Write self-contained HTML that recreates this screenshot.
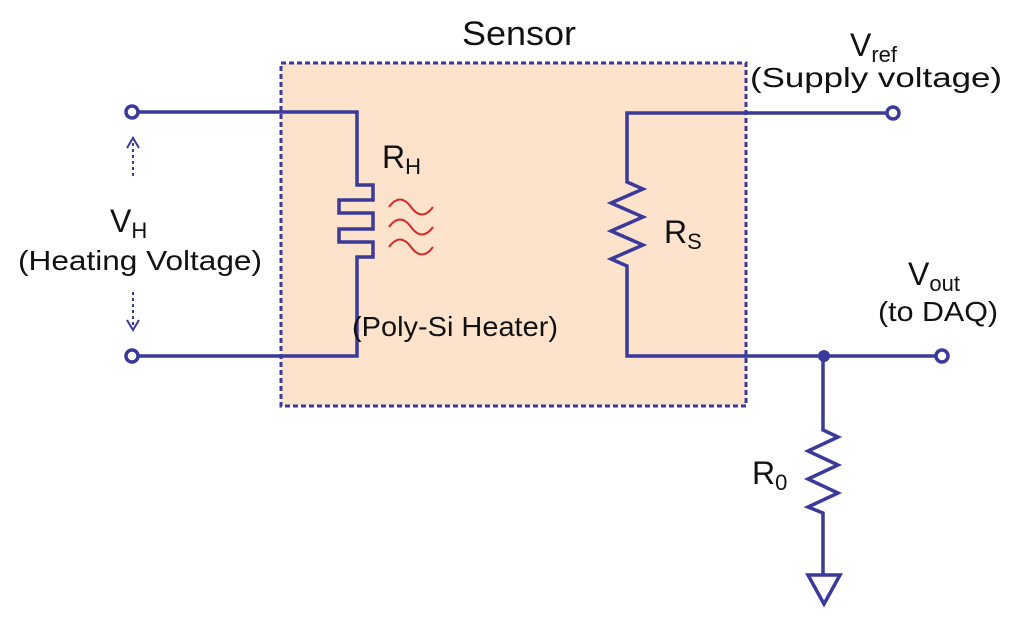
<!DOCTYPE html>
<html><head><meta charset="utf-8"><style>
html,body{margin:0;padding:0;background:#fff;}
svg{display:block;}
text{font-family:"Liberation Sans",sans-serif;fill:#111;}
</style></head><body>
<svg width="1024" height="618" viewBox="0 0 1024 618" xmlns="http://www.w3.org/2000/svg">
<rect x="281" y="63" width="465" height="343" fill="#fde3cc"/>
<g fill="none" stroke="#3a3a9a" stroke-width="3.5">
<path d="M138,112 H357 V185 H373 V200 H339 V213 H373 V229 H339 V242 H373 V257 H357 V356 H138"/>
<path d="M887,113 H627 V182 L643,189 L611,203 L643,217 L611,231 L643,245 L611,259 L627,266 V356 H936"/>
<path d="M823,356 V430 L838,437 L808,451 L838,465 L808,479 L838,493 L808,507 L823,513 V575"/>
<path d="M808,575 H840 L824,604 Z"/>
<circle cx="132" cy="112" r="6"/>
<circle cx="132" cy="356" r="6"/>
<circle cx="893" cy="113" r="6"/>
<circle cx="942" cy="356" r="6"/>
</g>
<circle cx="824" cy="356" r="6" fill="#3a3a9a"/>
<rect x="281" y="63" width="465" height="343" fill="none" stroke="#3a3a9a" stroke-width="3" stroke-dasharray="5,3"/>
<g fill="none" stroke="#d42a2a" stroke-width="2">
<path d="M389,207 q11,-15 22,0 t22,0"/>
<path d="M389,227 q11,-15 22,0 t22,0"/>
<path d="M389,247 q11,-15 22,0 t22,0"/>
</g>
<g fill="none" stroke="#3a3a9a" stroke-width="2">
<path d="M133,176 V140" stroke-dasharray="3,3"/>
<path d="M127,148 L133,138 L139,148"/>
<path d="M133,292 V328" stroke-dasharray="3,3"/>
<path d="M127,320 L133,330 L139,320"/>
</g>
<text x="519" y="45" font-size="34" text-anchor="middle" textLength="114" lengthAdjust="spacingAndGlyphs">Sensor</text>
<text x="850" y="56" font-size="32">V<tspan font-size="22" dy="6">ref</tspan></text>
<text x="876" y="87" font-size="28" text-anchor="middle" textLength="252" lengthAdjust="spacingAndGlyphs">(Supply voltage)</text>
<text x="110" y="232" font-size="32">V<tspan font-size="22" dy="6">H</tspan></text>
<text x="140" y="270" font-size="28" text-anchor="middle" textLength="244" lengthAdjust="spacingAndGlyphs">(Heating Voltage)</text>
<text x="382" y="168" font-size="32">R<tspan font-size="22" dy="6">H</tspan></text>
<text x="455" y="336" font-size="28" text-anchor="middle" textLength="206" lengthAdjust="spacingAndGlyphs">(Poly-Si Heater)</text>
<text x="664" y="243" font-size="32">R<tspan font-size="22" dy="6">S</tspan></text>
<text x="908" y="285" font-size="32">V<tspan font-size="22" dy="6">out</tspan></text>
<text x="938" y="321" font-size="28" text-anchor="middle" textLength="120" lengthAdjust="spacingAndGlyphs">(to DAQ)</text>
<text x="752" y="484" font-size="32">R<tspan font-size="22" dy="6">0</tspan></text>
</svg>
</body></html>
